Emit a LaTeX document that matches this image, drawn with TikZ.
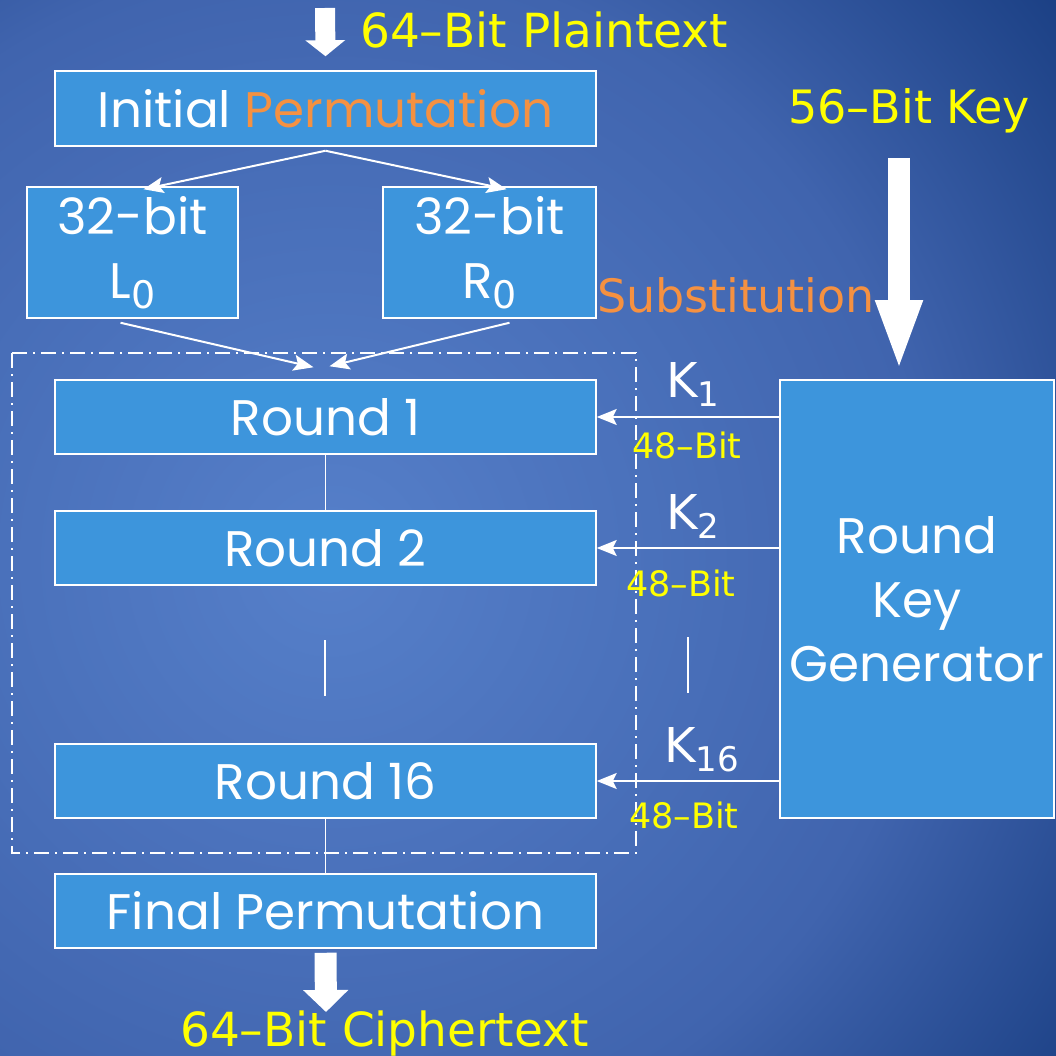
\documentclass[tikz,border=0pt]{standalone}
\usepackage{fontspec}
\setmainfont{DejaVu Sans}
\newfontfamily\comicfont{Poppins}
\usetikzlibrary{arrows.meta}

\definecolor{bglight}{RGB}{86,128,202}
\definecolor{bgmid}{RGB}{64,100,174}
\definecolor{bgdark}{RGB}{18,55,122}
\definecolor{boxblue}{RGB}{61,149,220}
\definecolor{permorange}{RGB}{245,145,65}
\definecolor{bityellow}{RGB}{255,255,0}

\pgfdeclareradialshading{slidebg}{\pgfpoint{0bp}{0bp}}{color(0bp)=(bglight); color(15bp)=(bgmid); color(25bp)=(bgdark); color(50bp)=(bgdark)}

% index set low and small, as in K_1
\newcommand{\lowidx}[2][34]{\raisebox{-0.2em}{\normalfont\fontsize{#1}{#1}\selectfont #2}}

\tikzset{
  stage/.style={draw=white, line width=1.5pt, fill=boxblue, text=white, inner sep=0pt,
    font=\comicfont\fontsize{50}{64}\selectfont, align=center},
  bits/.style={text=bityellow, inner sep=0pt, anchor=base west, font=\fontsize{47}{47}\selectfont},
  keybits/.style={text=bityellow, inner sep=0pt, anchor=base west, font=\fontsize{35}{35}\selectfont},
  klabel/.style={text=white, inner sep=0pt, anchor=base west, font=\fontsize{48}{48}\selectfont},
  wire/.style={draw=white, line width=2pt},
  arr/.style={wire, -{Stealth[length=20pt,width=16pt,inset=4pt]}},
  bigarrow/.style={draw=white},
}

\begin{document}
\begin{tikzpicture}[x=1pt,y=-1pt]
    \useasboundingbox (0,0) rectangle (1056,1056);
    \clip (0,0) rectangle (1056,1056);
    % Sfondo
    \shade[shading=slidebg] (330,560) circle (1000pt);

    % Blocchi
    \node[stage, minimum width=541pt, minimum height=75pt] (ip) at (325.5,108.5) {Initial \textcolor{permorange}{Permutation}};
    \node[stage, minimum width=211pt, minimum height=131pt] (l0) at (132.5,252.5) {32-bit\\L\lowidx[38]{0}};
    \node[stage, minimum width=213pt, minimum height=131pt] (r0) at (489.5,252.5) {32-bit\\R\lowidx[38]{0}};
    \node[stage, minimum width=541pt, minimum height=74pt] (r1) at (325.5,417) {Round 1};
    \node[stage, minimum width=541pt, minimum height=74pt] (r2) at (325.5,548) {Round 2};
    \node[stage, minimum width=541pt, minimum height=74pt] (r16) at (325.5,781) {Round 16};
    \node[stage, minimum width=541pt, minimum height=74pt] (fp) at (325.5,911) {Final Permutation};
    \node[stage, minimum width=274pt, minimum height=438pt] (kg) at (917,599) {Round\\Key\\Generator};

    % Cornice dei round
    \draw[white, line width=1.5pt, dash pattern=on 15pt off 6pt on 2pt off 6pt] (12,353) rectangle (636,853);

    % Frecce grosse
    \coordinate (ptop) at (325,8);
    \coordinate (ktop) at (899,158);
    \coordinate (kend) at (899,372);
    \coordinate (cend) at (326,1012);
    \draw[bigarrow, line width=20pt, -{Triangle[length=16pt,width=39pt]}] (ptop) -- ([yshift=14pt]ip.north);
    \draw[bigarrow, line width=22pt, -{Triangle[length=72pt,width=42pt]}] (ktop) -- (kend);
    \draw[bigarrow, line width=22pt, -{Triangle[length=22pt,width=44pt]}] ([yshift=-4pt]fp.south) -- (cend);

    % Frecce sottili
    \draw[arr] ([yshift=-4pt]ip.south) -- ([xshift=11pt,yshift=-3pt]l0.north);
    \draw[arr] ([yshift=-4pt]ip.south) -- ([xshift=17pt,yshift=-3pt]r0.north);
    \draw[arr] ([xshift=-12pt,yshift=-4pt]l0.south) -- ([xshift=-12pt,yshift=12pt]r1.north);
    \draw[arr] ([xshift=20pt,yshift=-4pt]r0.south) -- ([xshift=4pt,yshift=13pt]r1.north);
    \draw[wire, line width=1.5pt] (r1) -- (r2);
    \draw[wire, line width=1.5pt] (r16) -- (fp);
    \draw[arr] (kg.west |- r1.east) -- (r1.east);
    \draw[arr] (kg.west |- r2.east) -- (r2.east);
    \draw[arr] (kg.west |- r16.east) -- (r16.east);
    % Puntini
    \coordinate (ga) at (325,640);
    \coordinate (gb) at (325,696);
    \coordinate (ka) at (688,637);
    \coordinate (kb) at (688,693);
    \draw[wire, line width=1.5pt] (ga) -- (gb);
    \draw[wire, line width=1.5pt] (ka) -- (kb);

    % Etichette
    \node[bits] (ptxt) at (360,48) {64–Bit Plaintext};
    \node[bits, font=\fontsize{46}{46}\selectfont] (key) at (788,124) {56–Bit Key};
    \node[bits, text=permorange, font=\fontsize{46}{46}\selectfont] (subst) at (597,312) {Substitution};
    \node[bits] (ctxt) at (180,1046) {64–Bit Ciphertext};
    \node[klabel] (k1) at (666,397) {K\lowidx{1}};
    \node[klabel] (k2) at (666,529) {K\lowidx{2}};
    \node[klabel] (k16) at (664,762) {K\lowidx{16}};
    \node[keybits] (b1) at (632,458) {48–Bit};
    \node[keybits] (b2) at (626,596) {48–Bit};
    \node[keybits] (b16) at (629,828) {48–Bit};
\end{tikzpicture}
\end{document}
